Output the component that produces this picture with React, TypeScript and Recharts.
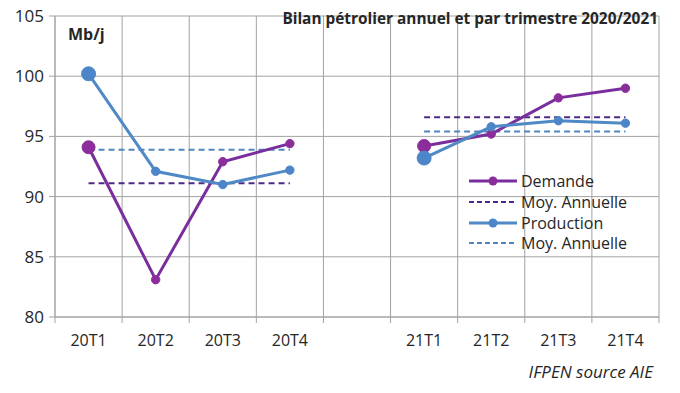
import { CartesianGrid, Line, LineChart, XAxis, YAxis } from "recharts";

// 9 slots: 4 quarters 2020, an empty gap, 4 quarters 2021
const categories = ["20T1", "20T2", "20T3", "20T4", "", "21T1", "21T2", "21T3", "21T4"];
const demande = [94.1, 83.1, 92.9, 94.4, null, 94.2, 95.2, 98.2, 99.0];
const demandeMoy = [91.1, 91.1, 91.1, 91.1, null, 96.6, 96.6, 96.6, 96.6];
const production = [100.2, 92.1, 91.0, 92.2, null, 93.2, 95.8, 96.3, 96.1];
const productionMoy = [93.9, 93.9, 93.9, 93.9, null, 95.4, 95.4, 95.4, 95.4];
const yTicks = [80, 85, 90, 95, 100, 105];
const boundaryTicks = [0, 1, 2, 3, 4, 5, 6, 7, 8, 9];
const centerTicks = [0.5, 1.5, 2.5, 3.5, 5.5, 6.5, 7.5, 8.5];

const PURPLE = "#7a2e9e";
const PURPLE_DOT = "#8c2d9c";
const PURPLE_DASH = "#4e2a86";
const BLUE = "#4f89c6";
const BLUE_DOT = "#4d86c8";
const BLUE_DASH = "#4f86c0";
const GRID = "#a3a3a3";
const TEXT = "#262626";
const FONT = "'Open Sans', sans-serif";

const rows = categories.map((c, i) => ({
  x: i + 0.5,
  cat: c,
  demande: demande[i],
  demandeMoy: demandeMoy[i],
  production: production[i],
  productionMoy: productionMoy[i],
}));

const legendItems = [
  { label: "Demande", color: PURPLE, dot: PURPLE_DOT, dashed: false },
  { label: "Moy. Annuelle", color: PURPLE_DASH, dot: "", dashed: true },
  { label: "Production", color: BLUE, dot: BLUE_DOT, dashed: false },
  { label: "Moy. Annuelle", color: BLUE_DASH, dot: "", dashed: true },
];

// first point of each year is drawn bigger, as in the source
function makeDot(fill: string, bigR: number) {
  return (p: any) => {
    if (p.value == null || p.cy == null) return <g key={p.key ?? p.index} />;
    const big = p.index === 0 || p.index === 5;
    return (
      <circle
        key={p.key ?? p.index}
        cx={p.cx}
        cy={p.cy}
        r={big ? bigR : 4.2}
        fill={fill}
        stroke={fill}
        strokeWidth={1}
      />
    );
  };
}

function LegendBox() {
  return (
    <div style={{ fontFamily: FONT, fontSize: 16, color: TEXT }}>
      {legendItems.map((it, i) => (
        <div key={i} style={{ display: "flex", alignItems: "center", height: 20.7 }}>
          <svg width={53} height={12} style={{ flex: "none" }}>
            <line
              x1={1}
              x2={49}
              y1={6}
              y2={6}
              stroke={it.color}
              strokeWidth={it.dashed ? 2 : 3}
              strokeDasharray={it.dashed ? "5 3" : undefined}
            />
            {it.dot && <circle cx={25} cy={6} r={4.5} fill={it.dot} />}
          </svg>
          <span style={{ lineHeight: "20px", whiteSpace: "nowrap" }}>{it.label}</span>
        </div>
      ))}
    </div>
  );
}

export default function App() {
  return (
    <div style={{ position: "absolute", left: 0, top: 0, width: 680, height: 393, background: "#fff" }}>
      <LineChart
        width={680}
        height={393}
        data={rows}
        margin={{ top: 16, right: 21, bottom: 40, left: 0 }}
      >
        <CartesianGrid stroke={GRID} strokeWidth={1} xAxisId="grid" />
        <XAxis
          xAxisId="grid"
          dataKey="x"
          type="number"
          domain={[0, 9]}
          ticks={boundaryTicks}
          tickFormatter={() => ""}
          tickSize={6}
          height={6}
          stroke={GRID}
          axisLine={{ stroke: GRID }}
          tickLine={{ stroke: GRID }}
        />
        <XAxis
          xAxisId="lab"
          dataKey="x"
          type="number"
          domain={[0, 9]}
          ticks={centerTicks}
          tickFormatter={(v: number) => categories[Math.floor(v)]}
          tickLine={false}
          axisLine={false}
          height={30}
          tick={{ fill: TEXT, fontSize: 16, fontFamily: FONT, dy: 4 }}
        />
        <YAxis
          domain={[80, 105]}
          ticks={yTicks}
          width={55}
          tickSize={6}
          stroke={GRID}
          tickLine={{ stroke: GRID }}
          axisLine={{ stroke: GRID }}
          tick={{ fill: TEXT, fontSize: 17, fontFamily: FONT, dx: -3 }}
        />
        <Line
          xAxisId="grid"
          dataKey="demandeMoy"
          name="Moy. Annuelle"
          stroke={PURPLE_DASH}
          strokeWidth={2}
          strokeDasharray="6 4"
          dot={false}
          activeDot={false}
          isAnimationActive={false}
        />
        <Line
          xAxisId="grid"
          dataKey="productionMoy"
          name="Moy. Annuelle"
          stroke={BLUE_DASH}
          strokeWidth={2}
          strokeDasharray="6 4"
          dot={false}
          activeDot={false}
          isAnimationActive={false}
        />
        <Line
          xAxisId="grid"
          dataKey="demande"
          name="Demande"
          stroke={PURPLE}
          strokeWidth={3}
          dot={makeDot(PURPLE_DOT, 6.5)}
          activeDot={false}
          isAnimationActive={false}
        />
        <Line
          xAxisId="grid"
          dataKey="production"
          name="Production"
          stroke={BLUE}
          strokeWidth={3}
          dot={makeDot(BLUE_DOT, 7)}
          activeDot={false}
          isAnimationActive={false}
        />
      </LineChart>
      <div style={{ position: "absolute", left: 468, top: 171, width: 190 }}>
        <LegendBox />
      </div>
      <div
        style={{
          position: "absolute",
          left: 68,
          top: 23,
          fontFamily: FONT,
          fontWeight: 700,
          fontSize: 16,
          color: TEXT,
        }}
      >
        Mb/j
      </div>
      <div
        style={{
          position: "absolute",
          right: 22,
          top: 8,
          fontFamily: FONT,
          fontWeight: 700,
          fontSize: 15.4,
          color: TEXT,
          whiteSpace: "nowrap",
        }}
      >
        Bilan pétrolier annuel et par trimestre 2020/2021
      </div>
      <div
        style={{
          position: "absolute",
          right: 27,
          top: 360,
          fontFamily: FONT,
          fontStyle: "italic",
          fontSize: 17,
          color: TEXT,
          whiteSpace: "nowrap",
        }}
      >
        IFPEN source AIE
      </div>
    </div>
  );
}
